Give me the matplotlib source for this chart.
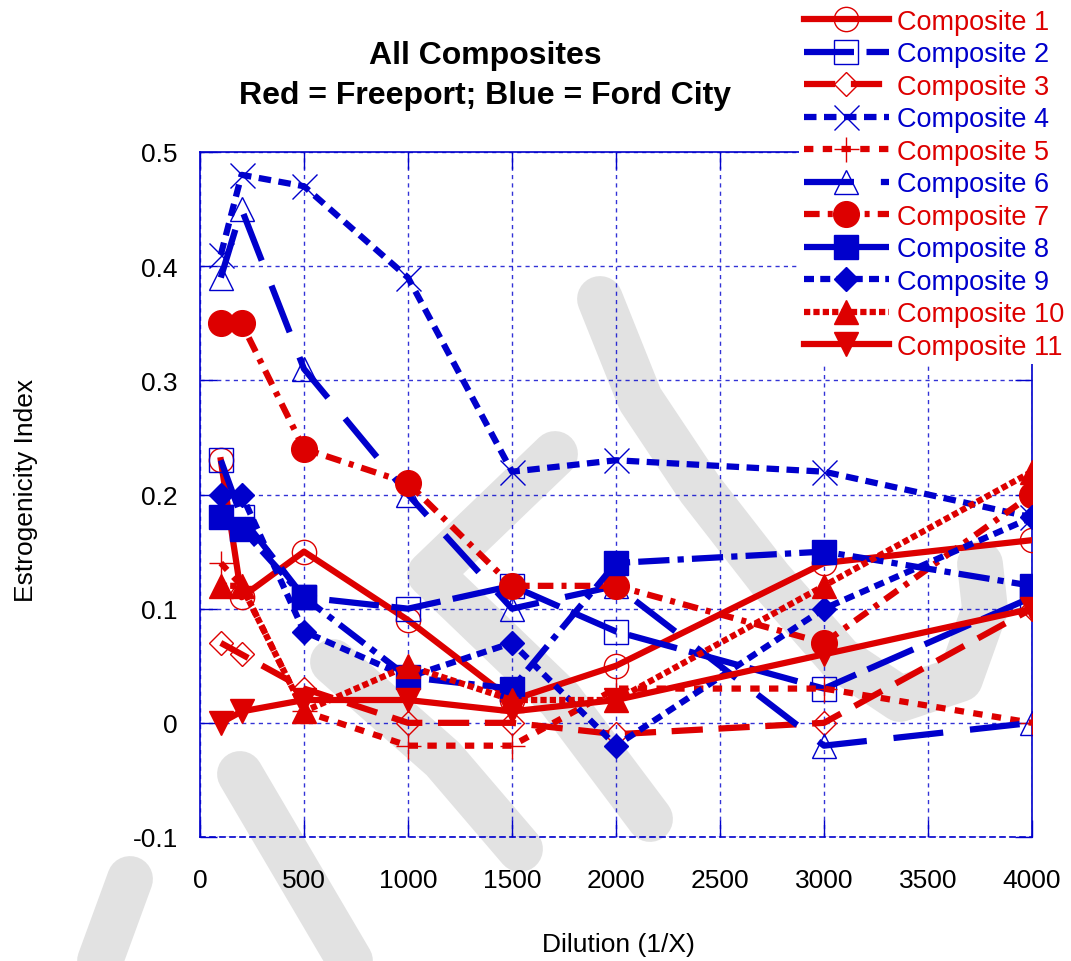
import matplotlib
matplotlib.use("Agg")
import matplotlib.pyplot as plt
from matplotlib.lines import Line2D

plt.rcParams['font.family'] = ['Liberation Sans', 'DejaVu Sans']

RED = '#dd0000'
BLUE = '#0000cc'

# dilution values (1/X)
dilution = [100, 200, 500, 1000, 1500, 2000, 3000, 4000]

# estrogenicity index per composite
comp1 = [0.23, 0.11, 0.15, 0.09, 0.02, 0.05, 0.14, 0.16]
comp2 = [0.23, 0.18, 0.11, 0.10, 0.12, 0.08, 0.03, 0.11]
comp3 = [0.07, 0.06, 0.03, 0.00, 0.00, -0.01, 0.00, 0.10]
comp4 = [0.41, 0.48, 0.47, 0.39, 0.22, 0.23, 0.22, 0.18]
comp5 = [0.14, 0.12, 0.01, -0.02, -0.02, 0.03, 0.03, 0.00]
comp6 = [0.39, 0.45, 0.31, 0.20, 0.10, 0.12, -0.02, 0.00]
comp7 = [0.35, 0.35, 0.24, 0.21, 0.12, 0.12, 0.07, 0.20]
comp8 = [0.18, 0.17, 0.11, 0.04, 0.03, 0.14, 0.15, 0.12]
comp9 = [0.20, 0.20, 0.08, 0.04, 0.07, -0.02, 0.10, 0.18]
comp10 = [0.12, 0.12, 0.01, 0.05, 0.02, 0.02, 0.12, 0.22]
comp11 = [0.00, 0.01, 0.02, 0.02, 0.01, 0.02, 0.06, 0.10]

labels = ['Composite %d' % i for i in range(1, 12)]
values = [comp1, comp2, comp3, comp4, comp5, comp6, comp7, comp8, comp9, comp10, comp11]

xticks = [0, 500, 1000, 1500, 2000, 2500, 3000, 3500, 4000]
yticks = [-0.1, 0, 0.1, 0.2, 0.3, 0.4, 0.5]
ytick_labels = ['-0.1', '0', '0.1', '0.2', '0.3', '0.4', '0.5']

# color, dash pattern, marker, filled, marker size
styles = [
    (RED, '-', 'o', False, 17.5),
    (BLUE, (0, (8, 2)), 's', False, 17),
    (RED, (0, (5, 2.5)), 'D', False, 12.5),
    (BLUE, (0, (2, 1.2)), 'x', False, 18),
    (RED, (0, (1.5, 1.5)), '+', False, 18),
    (BLUE, (0, (8, 4.3)), '^', False, 17),
    (RED, (0, (2.5, 1.3, 0.8, 1.3)), 'o', True, 18.5),
    (BLUE, (0, (5, 1.3, 1, 1.3)), 's', True, 17),
    (BLUE, (0, (1.6, 1)), 'D', True, 12.5),
    (RED, (0, (1, 0.5)), '^', True, 17),
    (RED, '-', 'v', True, 17),
]

W, H = 1071, 962
fig = plt.figure(figsize=(W / 100, H / 100), dpi=100)
fig.patch.set_facecolor('white')

# faint grey watermark behind everything (figure pixel coords, y from top)
strokes = [
    [(600, 300), (640, 400), (700, 490), (770, 580), (840, 660), (900, 700),
     (960, 680), (985, 610), (980, 565)],
    [(555, 455), (430, 575), (560, 700), (650, 820)],
    [(333, 663), (443, 760), (520, 850)],
    [(240, 775), (350, 962)],
    [(130, 880), (100, 962)],
]
for s in strokes:
    xs = [p[0] / W for p in s]
    ys = [1 - p[1] / H for p in s]
    fig.add_artist(Line2D(xs, ys, transform=fig.transFigure, color='#e2e2e2',
                          lw=33, solid_capstyle='round', solid_joinstyle='round',
                          zorder=-5))

ax = fig.add_axes([200 / W, 124 / H, 832 / W, 685 / H])
ax.patch.set_alpha(0)

for lab, vals, st in zip(labels, values, styles):
    col, ls, mk, filled, ms = st
    ax.plot(dilution, vals, color=col, linestyle=ls, lw=4.5, marker=mk,
            markersize=ms, markerfacecolor=col if filled else 'none',
            markeredgecolor=col, markeredgewidth=1.0, label=lab,
            dash_capstyle='butt', zorder=3)

ax.set_xlim(0, 4000)
ax.set_ylim(-0.1, 0.5)
ax.set_xticks(xticks)
ax.set_xticklabels([str(t) for t in xticks])
ax.set_yticks(yticks)
ax.set_yticklabels(ytick_labels)
ax.grid(True, color=BLUE, linestyle=(0, (3, 3)), lw=1.0, alpha=0.8, zorder=1)
ax.set_axisbelow(True)
for side in ['left', 'right', 'top', 'bottom']:
    ax.spines[side].set_color(BLUE)
    ax.spines[side].set_linewidth(1.2)
ax.spines['bottom'].set_linestyle((0, (3, 3)))
ax.tick_params(direction='in', length=12, width=1, color=BLUE, top=True,
               right=True, labelsize=19)
ax.tick_params(axis='x', pad=22)
ax.tick_params(axis='y', pad=16)

leg = ax.legend(loc='upper right', bbox_to_anchor=(1.0, 1.0 - 3 / H),
                bbox_transform=fig.transFigure, fontsize=19.5, numpoints=1,
                handlelength=3.15, handletextpad=0.3, labelspacing=0.24,
                borderpad=0.15, borderaxespad=0.1, frameon=True,
                fancybox=False, framealpha=1, edgecolor='none', facecolor='white')
leg.set_zorder(10)
for txt, st in zip(leg.get_texts(), styles):
    txt.set_color(st[0])

fig.text(485 / W, 1 - 56 / H, 'All Composites', ha='center', va='center',
         fontsize=23, fontweight='bold')
fig.text(485 / W, 1 - 96 / H, 'Red = Freeport; Blue = Ford City', ha='center',
         va='center', fontsize=23, fontweight='bold')
fig.text(26 / W, 1 - 490 / H, 'Estrogenicity Index', rotation=90, ha='center',
         va='center', fontsize=19)
fig.text(618 / W, 1 - 945 / H, 'Dilution (1/X)', ha='center', va='center',
         fontsize=19)

fig.savefig('out.png', dpi=100)
